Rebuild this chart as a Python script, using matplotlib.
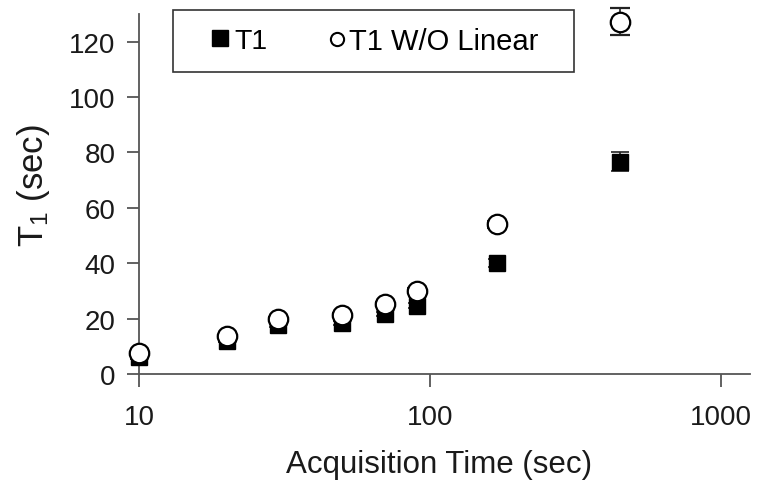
import matplotlib
matplotlib.use("Agg")
import matplotlib.pyplot as plt
from matplotlib.lines import Line2D
from matplotlib.patches import Rectangle
from matplotlib.ticker import FixedLocator, NullLocator

plt.rcParams['font.family'] = ['Liberation Sans', 'DejaVu Sans']
plt.rcParams['mathtext.fontset'] = 'custom'
plt.rcParams['mathtext.rm'] = 'Liberation Sans'
plt.rcParams['mathtext.it'] = 'Liberation Sans'

acq_time = [10, 20, 30, 50, 70, 90, 170, 450]
t1 = [6.0, 12.0, 17.7, 18.4, 21.7, 24.7, 40.0, 76.7]
t1_err = [0.5, 0.5, 0.6, 0.6, 0.7, 0.8, 1.5, 3.5]
t1_wo = [7.4, 13.6, 19.9, 21.4, 25.3, 30.1, 54.0, 127.3]
t1_wo_err = [0.5, 0.6, 0.6, 0.7, 0.8, 0.9, 1.2, 5.0]

yticks = [0, 20, 40, 60, 80, 100, 120]
xticks = [10, 100, 1000]
xtick_labels = ['10', '100', '1000']
series_labels = ['T1', 'T1 W/O Linear']

fig = plt.figure(figsize=(7.6, 4.85), dpi=100)
ax = fig.add_axes([0.183, 0.227, 0.804, 0.742])

axis_col = '#555555'

eb1 = ax.errorbar(acq_time, t1, yerr=t1_err, fmt='s', color='black', ms=11,
                  mfc='black', mec='black', ecolor='#222222', elinewidth=1.2,
                  capsize=6.5, capthick=1.2, zorder=3)
eb2 = ax.errorbar(acq_time, t1_wo, yerr=t1_wo_err, fmt='o', color='black', ms=14,
                  mfc='white', mec='black', mew=1.6, ecolor='#222222', elinewidth=1.2,
                  capsize=7, capthick=1.2, zorder=4)
for eb in (eb1, eb2):
    for art in eb.get_children():
        art.set_clip_on(False)

ax.set_xscale('log')
ax.set_xlim(10, 1260)
ax.set_ylim(0, 130)
ax.xaxis.set_major_locator(FixedLocator(xticks))
ax.set_xticklabels(xtick_labels)
ax.xaxis.set_minor_locator(NullLocator())
ax.set_yticks(yticks)

for s in ['top', 'right']:
    ax.spines[s].set_visible(False)
for s in ['left', 'bottom']:
    ax.spines[s].set_color(axis_col)
    ax.spines[s].set_linewidth(1.3)

ax.tick_params(axis='both', direction='out', length=9, width=1.3, color=axis_col,
               labelsize=20, labelcolor='#1a1a1a')
ax.tick_params(axis='y', pad=8)
ax.tick_params(axis='x', pad=13)

ax.set_xlabel('Acquisition Time (sec)', fontsize=22.5, color='#1a1a1a', labelpad=13)
ax.xaxis.label.set_x(0.491)
ax.set_ylabel('T$_\\mathregular{1}$ (sec)', fontsize=25, color='#1a1a1a', labelpad=12)
ax.yaxis.label.set_y(0.526)

# legend frame
fig.add_artist(Rectangle((173 / 760, 1 - 73 / 485), (574 - 173) / 760, 62 / 485,
                         transform=fig.transFigure, facecolor='white',
                         edgecolor='#333333', linewidth=1.2, zorder=5))

h1 = [Line2D([], [], ls='none', marker='s', ms=11, mfc='black', mec='black')]
h2 = [Line2D([], [], ls='none', marker='o', ms=9.5, mfc='white', mec='black', mew=1.5)]

leg1 = fig.legend(h1, series_labels[:1], loc='center left',
                  bbox_to_anchor=(206 / 760, 1 - 42 / 485), fontsize=20.5,
                  frameon=False, handlelength=1.0, handletextpad=0.0,
                  borderpad=0, borderaxespad=0)
leg1.set_zorder(6)
leg2 = fig.legend(h2, series_labels[1:], loc='center left',
                  bbox_to_anchor=(328 / 760, 1 - 42 / 485), fontsize=21,
                  frameon=False, handlelength=0.6, handletextpad=0.12,
                  borderpad=0, borderaxespad=0)
leg2.set_zorder(6)

fig.savefig('out.png', dpi=100)
